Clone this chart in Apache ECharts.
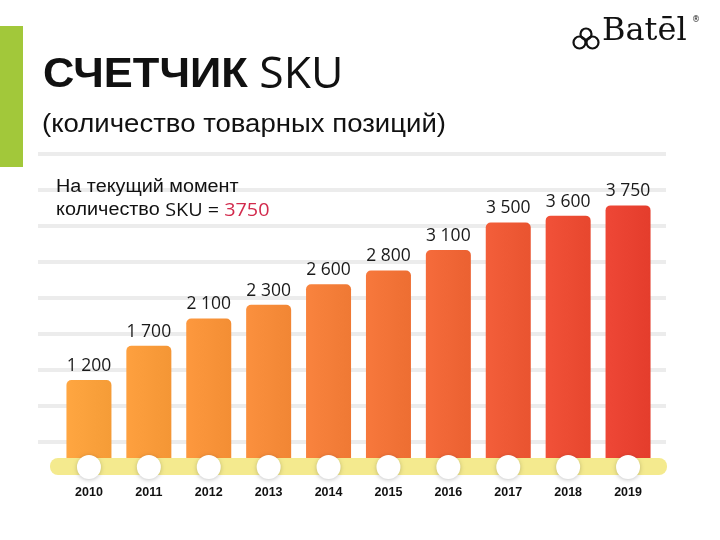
<!DOCTYPE html>
<html><head><meta charset="utf-8">
<script src="https://cdn.jsdelivr.net/npm/echarts@6/dist/echarts.min.js"></script>
<style>html,body{margin:0;padding:0;background:#fff}#c{width:720px;height:540px}</style>
</head><body><div id="c"></div>
<script>
const years = ['2010','2011','2012','2013','2014','2015','2016','2017','2018','2019'];
const skuCounts = [1200,1700,2100,2300,2600,2800,3100,3500,3600,3750];
const barColors = ['#f9a03b','#f89a39','#f79238','#f58a38','#f37d38','#f17236','#ef6535','#ed5834','#eb4b32','#e84130'];
const currentSku = 3750;

const chart = echarts.init(document.getElementById('c'), null, {renderer:'canvas'});
function fmt(v){ return String(v).replace(/\B(?=(\d{3})+(?!\d))/g,' '); }
function shade(hex, amt){
  const n = parseInt(hex.slice(1),16);
  let r=(n>>16)&255,g=(n>>8)&255,b=n&255;
  r=Math.min(255,Math.max(0,r+amt));g=Math.min(255,Math.max(0,g+amt));b=Math.min(255,Math.max(0,b+amt));
  return 'rgb('+r+','+g+','+b+')';
}
const BASE_Y = -70; // level of the timeline markers below the bars

chart.setOption({
  animation:false,
  grid:[
    {left:59, right:62, top:154, bottom:64},
    {left:38, right:54, top:154, bottom:98}
  ],
  xAxis:[
    {type:'category', data:years, gridIndex:0,
     axisLine:{show:false}, axisTick:{show:false},
     axisLabel:{margin:10, color:'#111', fontFamily:'Liberation Sans', fontWeight:'bold', fontSize:12.5}},
    {type:'value', gridIndex:1, min:0, max:1, show:false}
  ],
  yAxis:[
    {type:'value', gridIndex:0, min:-200, max:4500, show:false, splitLine:{show:false}},
    {type:'value', gridIndex:1, min:0, max:8, interval:1,
     axisLine:{show:false}, axisTick:{show:false}, axisLabel:{show:false},
     splitLine:{show:true, lineStyle:{color:'#ececec', width:4}}}
  ],
  series:[
    {type:'bar', xAxisIndex:0, yAxisIndex:0, barWidth:45, z:3,
     data: skuCounts.map((v,i)=>({value:v, itemStyle:{
       color:new echarts.graphic.LinearGradient(0,0,1,0,[
         {offset:0,color:shade(barColors[i],6)},{offset:1,color:shade(barColors[i],-4)}]),
       borderRadius:[5,5,0,0]}})),
     label:{show:true, position:'top', distance:5, color:'#1a1a1a',
       fontFamily:'Open Sans', fontSize:17.5, formatter:p=>fmt(p.value)}},
    {type:'scatter', xAxisIndex:0, yAxisIndex:0, z:8, symbol:'circle', symbolSize:24,
     data: years.map(()=>BASE_Y),
     itemStyle:{color:'#ffffff', opacity:1, shadowBlur:4, shadowColor:'rgba(0,0,0,0.22)', shadowOffsetY:1}}
  ],
  graphic:[
    {type:'rect', left:0, top:26, shape:{width:23, height:141}, style:{fill:'#a2c83a'}, z:1},
    {type:'rect', left:50, top:458, shape:{width:617, height:17, r:8}, style:{fill:'#f4ea8e'}, z:4},
    {type:'text', x:43, y:54, scaleX:1.035, z:10, style:{
      text:'{b|СЧЕТЧИК}{l| SKU}',
      rich:{b:{fontFamily:'Liberation Sans', fontWeight:'bold', fontSize:42, fill:'#111'},
            l:{fontFamily:'Open Sans', fontSize:43, fill:'#111'}}}},
    {type:'text', x:42, y:112, scaleX:1.06, z:10, style:{text:'(количество товарных позиций)',
      fontFamily:'Liberation Sans', fontSize:26, fill:'#111'}},
    {type:'text', x:56, y:176, scaleX:1.1, z:10, style:{
      text:'{a|На текущий момент}\n{a|количество }{s|SKU = }{r|'+currentSku+'}',
      rich:{a:{fontFamily:'Liberation Sans', fontSize:18, fill:'#111', lineHeight:23},
            s:{fontFamily:'Open Sans', fontSize:18, fill:'#111', lineHeight:23},
            r:{fontFamily:'Open Sans', fontSize:18, fill:'#d22a4c', lineHeight:23}}}},
    {type:'text', left:602, top:16, z:10, style:{text:'Batēl', fontFamily:'DejaVu Serif', fontSize:32, fill:'#111'}},
    {type:'text', left:692, top:16, z:10, style:{text:'®', fontFamily:'DejaVu Sans', fontSize:8, fill:'#111'}},
    {type:'group', left:571, top:26, z:10, children:[
      {type:'circle', shape:{cx:7, cy:14.5, r:6}, style:{fill:'none', stroke:'#111', lineWidth:2.2}},
      {type:'circle', shape:{cx:20, cy:14.5, r:6}, style:{fill:'none', stroke:'#111', lineWidth:2.2}},
      {type:'circle', shape:{cx:13.5, cy:6, r:5.5}, style:{fill:'none', stroke:'#111', lineWidth:2.2}}
    ]}
  ]
});
</script></body></html>
